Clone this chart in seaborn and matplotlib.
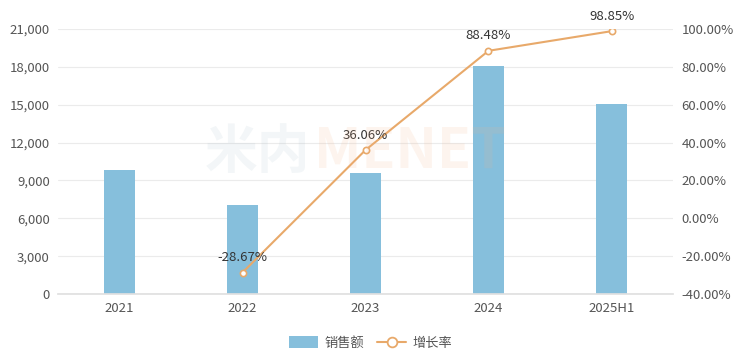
import matplotlib
matplotlib.use("Agg")
import matplotlib.pyplot as plt
import seaborn as sns
import pandas as pd
from matplotlib.ticker import FuncFormatter
from matplotlib.lines import Line2D
from matplotlib.patches import FancyBboxPatch, Patch

categories = ["2021", "2022", "2023", "2024", "2025H1"]
sales = [9830, 7050, 9590, 18070, 15060]
growth = [None, -28.67, 36.06, 88.48, 98.85]
growth_labels = ["", "-28.67%", "36.06%", "88.48%", "98.85%"]

sns.set_theme(style="white")
plt.rcParams['font.family'] = ['Noto Sans CJK SC', 'DejaVu Sans']

bar_color = "#86BFDC"
line_color = "#E8A96A"
text_color = "#555555"

df = pd.DataFrame({"cat": categories, "sales": sales, "growth": growth})

fig = plt.figure(figsize=(7.41, 3.64), dpi=100)
ax = fig.add_axes([58/741, 1-294/364, (673-58)/741, (294-29)/364])

sns.barplot(data=df, x="cat", y="sales", color=bar_color, width=0.26, ax=ax,
            saturation=1, edgecolor="none")
ax.set_xlim(-0.5, 4.5)
ax.set_ylim(0, 21000)
ax.set_yticks(range(0, 21001, 3000))
ax.yaxis.set_major_formatter(FuncFormatter(lambda v, p: f"{int(v):,}"))
ax.grid(axis="y", color="#EBEBEB", linewidth=0.8)
ax.set_axisbelow(True)
ax.set_xlabel("")
ax.set_ylabel("")
for s in ["top", "right", "left"]:
    ax.spines[s].set_visible(False)
ax.spines["bottom"].set_color("#E0E0E0")
ax.tick_params(axis="both", length=0, labelsize=9.5, colors=text_color, pad=6)

ax2 = ax.twinx()
sub = df.dropna(subset=["growth"])
xpos = [categories.index(c) for c in sub["cat"]]
sns.lineplot(x=xpos, y=sub["growth"].values, ax=ax2, color=line_color, linewidth=1.5,
             marker="o", markersize=4.5, markerfacecolor="white",
             markeredgecolor=line_color, markeredgewidth=1.2)
ax2.set_xlim(-0.5, 4.5)
ax2.set_ylim(-40, 100)
ax2.set_yticks(range(-40, 101, 20))
ax2.yaxis.set_major_formatter(FuncFormatter(lambda v, p: f"{v:.2f}%"))
for s in ["top", "right", "left", "bottom"]:
    ax2.spines[s].set_visible(False)
ax2.tick_params(axis="both", length=0, labelsize=9.5, colors=text_color, pad=6)
ax2.set_ylabel("")

for x, g, lab in zip(range(len(categories)), growth, growth_labels):
    if g is None:
        continue
    ax2.annotate(lab, (x, g), xytext=(0, 6), textcoords="offset points",
                 ha="center", va="bottom", fontsize=9.5, color="#333333")

# watermark (very faint)
fig.text(310/741, 1-152/364, "米内", fontsize=38, color="#9DB8C6", alpha=0.12,
         ha="right", va="center", fontweight="bold", zorder=0)
fig.text(314/741, 1-152/364, "MENET", fontsize=40, color="#F4B48A", alpha=0.14,
         ha="left", va="center", fontweight="bold", zorder=0)

handles = [Patch(facecolor=bar_color, edgecolor="none"),
           Line2D([0], [0], color=line_color, linewidth=1.5, marker="o", markersize=7,
                  markerfacecolor="white", markeredgecolor=line_color, markeredgewidth=1.3)]
fig.legend(handles, ["销售额", "增长率"], loc="center", bbox_to_anchor=(0.5, 1-343/364),
           ncol=2, frameon=False, fontsize=9.5, handlelength=2.2, handleheight=1.0,
           columnspacing=1.0, handletextpad=0.5, labelcolor=text_color)

fig.savefig("out.png", dpi=100)
